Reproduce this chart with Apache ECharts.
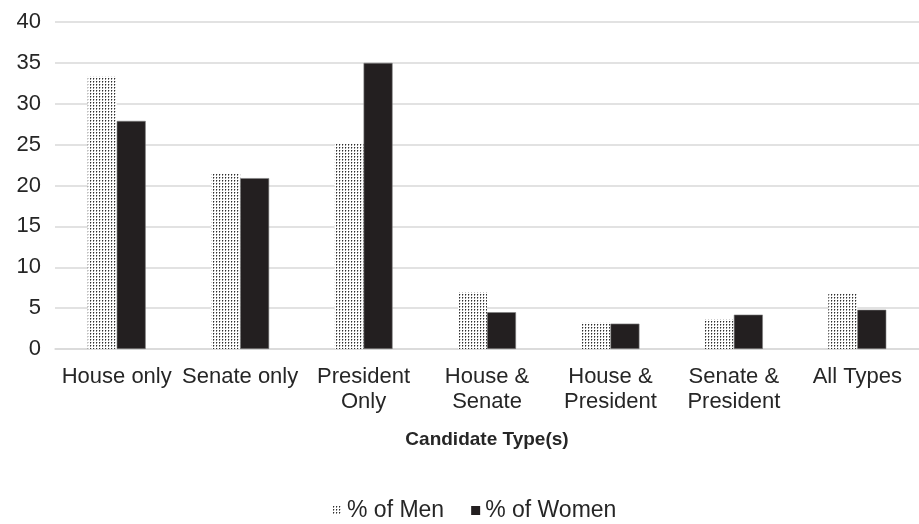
<!DOCTYPE html>
<html>
<head>
<meta charset="utf-8">
<script src="https://cdn.jsdelivr.net/npm/echarts@6/dist/echarts.min.js"></script>
<style>
  html, body { margin: 0; padding: 0; background: #fff; }
  #main { width: 919px; height: 524px; }
</style>
</head>
<body>
<div id="main"></div>
<script>
// data
const categories = ["House only", "Senate only", "President\nOnly", "House &\nSenate", "House &\nPresident", "Senate &\nPresident", "All Types"];
const menValues = [33.3, 21.5, 25.1, 6.9, 3.2, 3.6, 6.8];
const womenValues = [27.9, 20.9, 35.0, 4.5, 3.1, 4.2, 4.8];
const yTicks = [0, 5, 10, 15, 20, 25, 30, 35, 40];

// dotted fill for the men series (columns of small dark dots)
function dotPattern() {
  const c = document.createElement("canvas");
  c.width = 3;
  c.height = 3;
  const ctx = c.getContext("2d");
  ctx.fillStyle = "#ffffff";
  ctx.fillRect(0, 0, 3, 3);
  ctx.fillStyle = "#2e2e2e";
  ctx.fillRect(0, 0, 1, 1);
  ctx.fillStyle = "#8a8a8a";
  ctx.fillRect(0, 1, 1, 1);
  ctx.fillStyle = "#d0d0d0";
  ctx.fillRect(1, 0, 1, 1);
  return c;
}

const myChart = echarts.init(document.getElementById("main"));
const textColor = "#262626";
const font = "Liberation Sans, Arial, sans-serif";

const option = {
  animation: false,
  textStyle: { fontFamily: font },
  grid: { left: 55, right: -5, top: 22, bottom: 175 },
  legend: {
    bottom: -3,
    left: 328,
    itemWidth: 9,
    itemHeight: 9,
    itemGap: 27,
    icon: "rect",
    itemStyle: { borderWidth: 0 },
    textStyle: { color: textColor, fontSize: 23, fontFamily: font },
    data: ["% of Men", "% of Women"],
  },
  xAxis: {
    type: "category",
    data: categories,
    name: "Candidate Type(s)",
    nameLocation: "middle",
    nameGap: 81,
    nameTextStyle: { color: textColor, fontSize: 19, fontWeight: "bold", fontFamily: font },
    axisLine: { show: true, lineStyle: { color: "#d9d9d9", width: 1.5 } },
    axisTick: { show: false },
    axisLabel: { color: textColor, fontSize: 22, lineHeight: 25, margin: 15, interval: 0, fontFamily: font },
  },
  yAxis: {
    type: "value",
    min: yTicks[0],
    max: yTicks[yTicks.length - 1],
    interval: 5,
    axisLine: { show: false },
    axisTick: { show: false },
    axisLabel: { color: textColor, fontSize: 22, margin: 14, fontFamily: font },
    splitLine: { lineStyle: { color: "#d9d9d9", width: 1.5 } },
  },
  series: [
    {
      name: "% of Men",
      type: "bar",
      data: menValues,
      barWidth: 29,
      barGap: "0%",
      itemStyle: { color: { image: dotPattern(), repeat: "repeat" } },
    },
    {
      name: "% of Women",
      type: "bar",
      data: womenValues,
      barWidth: 29,
      barGap: "0%",
      itemStyle: { color: "#231f20", borderColor: "#7f7f7f", borderWidth: 0.6 },
    },
  ],
};

myChart.setOption(option);
</script>
</body>
</html>
